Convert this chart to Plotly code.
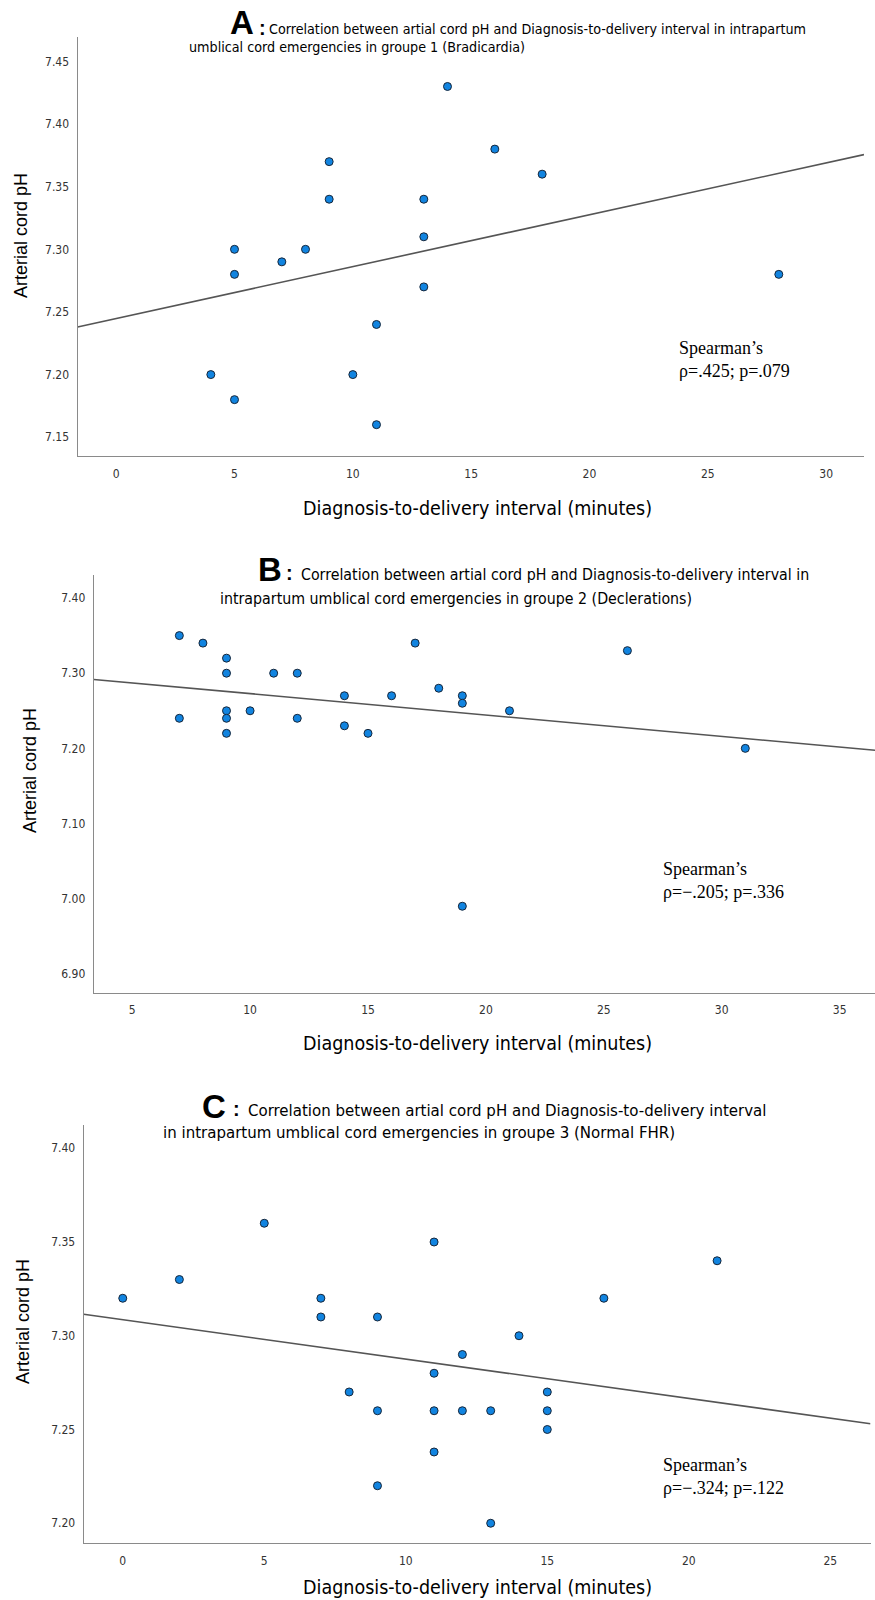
import numpy as np
import plotly.graph_objects as go

W, H = 875, 1600

# ---------------- data ----------------
# Panel A : groupe 1 (Bradicardia)
a_minutes = [4, 5, 5, 5, 7, 8, 9, 9, 10, 11, 11, 13, 13, 13, 14, 16, 18, 28]
a_ph = [7.20, 7.30, 7.28, 7.18, 7.29, 7.30, 7.37, 7.34, 7.20, 7.24, 7.16,
        7.34, 7.31, 7.27, 7.43, 7.38, 7.36, 7.28]
a_xticks = [0, 5, 10, 15, 20, 25, 30]
a_yticks = [7.15, 7.20, 7.25, 7.30, 7.35, 7.40, 7.45]

# Panel B : groupe 2 (Declerations)
b_minutes = [7, 8, 9, 9, 11, 12, 17, 26, 7, 9, 9, 9, 10, 12, 14, 14, 15, 16,
             18, 19, 19, 21, 31, 19]
b_ph = [7.35, 7.34, 7.32, 7.30, 7.30, 7.30, 7.34, 7.33, 7.24, 7.25, 7.24, 7.22,
        7.25, 7.24, 7.27, 7.23, 7.22, 7.27, 7.28, 7.27, 7.26, 7.25, 7.20, 6.99]
b_xticks = [5, 10, 15, 20, 25, 30, 35]
b_yticks = [6.90, 7.00, 7.10, 7.20, 7.30, 7.40]

# Panel C : groupe 3 (Normal FHR)
c_minutes = [0, 2, 5, 7, 7, 8, 9, 9, 9, 11, 11, 11, 11, 12, 12, 13, 13, 14,
             15, 15, 15, 17, 21]
c_ph = [7.32, 7.33, 7.36, 7.32, 7.31, 7.27, 7.31, 7.26, 7.22, 7.35, 7.28, 7.26,
        7.238, 7.29, 7.26, 7.26, 7.20, 7.30, 7.27, 7.26, 7.25, 7.32, 7.34]
c_xticks = [0, 5, 10, 15, 20, 25]
c_yticks = [7.20, 7.25, 7.30, 7.35, 7.40]

titles = [
    ("A", "Correlation between artial cord pH and Diagnosis-to-delivery interval in intrapartum",
     "umblical cord emergencies in groupe 1 (Bradicardia)"),
    ("B", "Correlation between artial cord pH and Diagnosis-to-delivery interval in",
     "intrapartum umblical cord emergencies in groupe 2 (Declerations)"),
    ("C", "Correlation between artial cord pH and Diagnosis-to-delivery interval",
     "in intrapartum umblical cord emergencies in groupe 3 (Normal FHR)"),
]
stats = ["Spearman\u2019s<br>\u03c1=.425; p=.079",
         "Spearman\u2019s<br>\u03c1=\u2212.205; p=.336",
         "Spearman\u2019s<br>\u03c1=\u2212.324; p=.122"]
x_title = "Diagnosis-to-delivery interval (minutes)"
y_title = "Arterial cord pH"

# ---------------- layout geometry (pixels) ----------------
panels = [
    dict(x=a_minutes, y=a_ph, xt=a_xticks, yt=a_yticks, fmt="%.2f",
         left=77.6, right=864, top=37, bottom=456,
         xr=[-1.63, 31.6], yr=[7.135, 7.4695], tsize=14.2,
         letter=(228, 22), colon=262, l1=(267, 29), l2=(187, 47),
         stat=(677, 359), ytit=(21, 236), xtit=(477, 508)),
    dict(x=b_minutes, y=b_ph, xt=b_xticks, yt=b_yticks, fmt="%.2f",
         left=93.75, right=875, top=575, bottom=992.7,
         xr=[3.37, 36.5], yr=[6.875, 7.4306], tsize=15.8,
         letter=(256, 569), colon=289, l1=(298.5, 574), l2=(218, 598),
         stat=(661, 880), ytit=(30, 771), xtit=(477, 1043)),
    dict(x=c_minutes, y=c_ph, xt=c_xticks, yt=c_yticks, fmt="%.2f",
         left=83.7, right=870.5, top=1125, bottom=1543.3,
         xr=[-1.38, 26.42], yr=[7.1893, 7.4124], tsize=16.7,
         letter=(200, 1106), colon=236, l1=(245.5, 1110), l2=(160.7, 1132),
         stat=(661, 1476), ytit=(23, 1322), xtit=(477, 1587)),
]


def px(x):
    return x / W


def py(y):
    return 1 - y / H


NARROW = "Liberation Sans Narrow, Arial Narrow, DejaVu Sans Condensed, sans-serif"

fig = go.Figure()
annotations = []
layout_axes = {}

for i, p in enumerate(panels):
    n = "" if i == 0 else str(i + 1)
    xa, ya = "x" + n, "y" + n
    fig.add_trace(go.Scatter(
        x=p["x"], y=p["y"], mode="markers", xaxis=xa, yaxis=ya,
        marker=dict(size=8, color="#1184e0", line=dict(color="#16263a", width=1)),
        showlegend=False, hoverinfo="x+y"))
    # linear fit line (least squares through the data)
    slope, inter = np.polyfit(p["x"], p["y"], 1)
    xs = np.array(p["xr"])
    fig.add_trace(go.Scatter(
        x=xs, y=slope * xs + inter, mode="lines", xaxis=xa, yaxis=ya,
        line=dict(color="#555555", width=1.6), showlegend=False, hoverinfo="skip"))

    layout_axes["xaxis" + n] = dict(
        domain=[px(p["left"]), px(p["right"])], anchor=ya, range=p["xr"],
        tickvals=p["xt"], ticktext=[str(v) for v in p["xt"]],
        showline=True, linecolor="#8a8a8a", linewidth=1.2, showgrid=False,
        zeroline=False, ticks="", ticklabelstandoff=6,
        tickfont=dict(family=NARROW, size=12, color="#333333"))
    layout_axes["yaxis" + n] = dict(
        domain=[py(p["bottom"]), py(p["top"])], anchor=xa, range=p["yr"],
        tickvals=p["yt"], ticktext=[p["fmt"] % v for v in p["yt"]],
        showline=True, linecolor="#8a8a8a", linewidth=1.2, showgrid=False,
        zeroline=False, ticks="", ticklabelstandoff=5,
        tickfont=dict(family=NARROW, size=12, color="#333333"))

    letter, l1, l2, t1, t2 = titles[i][0], p["l1"], p["l2"], titles[i][1], titles[i][2]
    annotations += [
        dict(x=px(p["letter"][0]), y=py(p["letter"][1]), xref="paper", yref="paper",
             text="<b>%s</b>" % letter, showarrow=False, xanchor="left", yanchor="middle",
             font=dict(family="Liberation Sans, Arial, sans-serif", size=33, color="black")),
        dict(x=px(p["colon"]), y=py(l1[1] - 1), xref="paper", yref="paper",
             text="<b>:</b>", showarrow=False, xanchor="center", yanchor="middle",
             font=dict(family="Liberation Sans, Arial, sans-serif", size=20, color="black")),
        dict(x=px(l1[0]), y=py(l1[1]), xref="paper", yref="paper", text=t1,
             showarrow=False, xanchor="left", yanchor="middle",
             font=dict(family=NARROW, size=p["tsize"], color="black")),
        dict(x=px(l2[0]), y=py(l2[1]), xref="paper", yref="paper", text=t2,
             showarrow=False, xanchor="left", yanchor="middle",
             font=dict(family=NARROW, size=p["tsize"], color="black")),
        dict(x=px(p["stat"][0]), y=py(p["stat"][1]), xref="paper", yref="paper",
             text=stats[i], showarrow=False, xanchor="left", yanchor="middle", align="left",
             font=dict(family="Liberation Serif, Times New Roman, serif", size=18, color="black")),
        dict(x=px(p["ytit"][0]), y=py(p["ytit"][1]), xref="paper", yref="paper",
             text=y_title, textangle=-90, showarrow=False, xanchor="center", yanchor="middle",
             font=dict(family="Liberation Sans, Arial, sans-serif", size=18, color="black")),
        dict(x=px(p["xtit"][0]), y=py(p["xtit"][1]), xref="paper", yref="paper",
             text=x_title, showarrow=False, xanchor="center", yanchor="middle",
             font=dict(family=NARROW, size=19.5, color="black")),
    ]

fig.update_layout(
    width=W, height=H, margin=dict(l=0, r=0, t=0, b=0),
    paper_bgcolor="white", plot_bgcolor="white",
    annotations=annotations, **layout_axes)

fig.write_html(
    "out.html",
    config={"displayModeBar": False},
    post_script="document.body.style.margin='0px';document.body.style.overflow='hidden';")
